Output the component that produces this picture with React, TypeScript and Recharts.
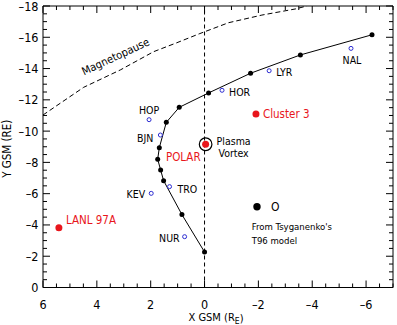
import { ScatterChart, Scatter, XAxis, YAxis, ReferenceLine } from 'recharts';

// T96 field-line footprint trace, GSM coordinates in Earth radii
const traceX = [0, 0.84, 1.52, 1.63, 1.74, 1.68, 1.42, 0.94, -0.15, -1.71, -3.56, -6.22];
const traceY = [-2.27, -4.66, -6.83, -7.51, -8.2, -8.94, -10.56, -11.52, -12.44, -13.7, -14.87, -16.16];

// model magnetopause boundary
const magnetopauseX = [6, 4.49, 3.13, 1.89, 1.03, 0.2, -0.89, -2.13, -3.37, -3.8];
const magnetopauseY = [-11.03, -12.8, -13.91, -15.08, -15.65, -16.22, -16.93, -17.42, -17.81, -18];

// ground stations (mapped)
const stationNames = ['HOP', 'BJN', 'HOR', 'LYR', 'NAL', 'TRO', 'KEV', 'NUR'];
const stationX = [2.06, 1.64, -0.65, -2.4, -5.44, 1.3, 1.98, 0.74];
const stationY = [-10.73, -9.75, -12.61, -13.86, -15.29, -6.45, -6.02, -3.25];

// spacecraft positions
const craftNames = ['POLAR', 'Cluster 3', 'LANL 97A'];
const craftX = [-0.04, -1.91, 5.41];
const craftY = [-9.16, -11.09, -3.82];

// plasma vortex seen at POLAR
const vortexX = [-0.04];
const vortexY = [-9.16];

const xTickLabels = [6, 4, 2, 0, -2, -4, -6];
const yTickLabels = [0, -2, -4, -6, -8, -10, -12, -14, -16, -18];

const X_DOMAIN: [number, number] = [-7, 6];
const Y_DOMAIN: [number, number] = [-18, 0];
const xTicks = Array.from({ length: 27 }, (_, i) => X_DOMAIN[0] + i * 0.5);
const yTicks = Array.from({ length: 37 }, (_, i) => Y_DOMAIN[0] + i * 0.5);

const FONT = "'DejaVu Sans Condensed', 'DejaVu Sans', sans-serif";
const RED = '#e8161c';
const BLUE = '#2c2cd2';
const GAP = 4;
const MAJOR = 7;
const MINOR = 4;

const zip = (names: string[] | null, xs: number[], ys: number[]) =>
  xs.map((x, i) => ({ x, y: ys[i], name: names ? names[i] : '' }));

const fmt = (v: number) => (v < 0 ? '\u2013' + Math.abs(v) : String(v));

const stationLabel: Record<string, { anchor: 'start' | 'middle' | 'end'; dx: number; dy: number }> = {
  HOP: { anchor: 'middle', dx: 0, dy: -10 },
  BJN: { anchor: 'end', dx: -7, dy: 3 },
  HOR: { anchor: 'start', dx: 7, dy: 1.5 },
  LYR: { anchor: 'start', dx: 7, dy: 1.5 },
  NAL: { anchor: 'middle', dx: 1, dy: 12 },
  TRO: { anchor: 'start', dx: 8, dy: 2 },
  KEV: { anchor: 'end', dx: -6, dy: 1 },
  NUR: { anchor: 'end', dx: -5, dy: 1 },
};

const craftLabel: Record<string, { anchor: 'start' | 'middle' | 'end'; dx: number; dy: number }> = {
  POLAR: { anchor: 'end', dx: -5, dy: 12.5 },
  'Cluster 3': { anchor: 'start', dx: 7, dy: 0 },
  'LANL 97A': { anchor: 'start', dx: 7, dy: -7.5 },
};

// inward-pointing ticks; the axis line position is recovered from the tick margin
function BottomTick({ x, y, payload }: any) {
  const a = y - GAP;
  const major = xTickLabels.includes(payload.value);
  return (
    <g>
      <line x1={x} x2={x} y1={a} y2={a - (major ? MAJOR : MINOR)} stroke="#000" strokeWidth={1} />
      {major && (
        <text x={x} y={a + 17} textAnchor="middle" dominantBaseline="central" fontSize={12.5} fontFamily={FONT} fill="#000">
          {fmt(payload.value)}
        </text>
      )}
    </g>
  );
}

function TopTick({ x, y, payload }: any) {
  const a = y + GAP;
  const major = xTickLabels.includes(payload.value);
  return <line x1={x} x2={x} y1={a} y2={a + (major ? MAJOR : MINOR)} stroke="#000" strokeWidth={1} />;
}

function LeftTick({ x, y, payload }: any) {
  const a = x + GAP;
  const major = yTickLabels.includes(payload.value);
  return (
    <g>
      <line x1={a} x2={a + (major ? MAJOR : MINOR)} y1={y} y2={y} stroke="#000" strokeWidth={1} />
      {major && (
        <text x={a - 4.5} y={y} textAnchor="end" dominantBaseline="central" fontSize={12.5} fontFamily={FONT} fill="#000">
          {fmt(payload.value)}
        </text>
      )}
    </g>
  );
}

function RightTick({ x, y, payload }: any) {
  const a = x - GAP;
  const major = yTickLabels.includes(payload.value);
  return <line x1={a} x2={a - (major ? MAJOR : MINOR)} y1={y} y2={y} stroke="#000" strokeWidth={1} />;
}

const TraceDot = ({ cx, cy }: any) => <circle cx={cx} cy={cy} r={2.5} fill="#000" />;

const StationDot = ({ cx, cy, payload }: any) => {
  const l = stationLabel[payload.name];
  return (
    <g>
      <circle cx={cx} cy={cy} r={2} fill="#fff" stroke={BLUE} strokeWidth={1} />
      <text x={cx + l.dx} y={cy + l.dy} textAnchor={l.anchor} dominantBaseline="central" fontSize={10.5} fontFamily={FONT} fill="#000">
        {payload.name}
      </text>
    </g>
  );
};

const CraftDot = ({ cx, cy, payload }: any) => {
  const l = craftLabel[payload.name];
  return (
    <g>
      <circle cx={cx} cy={cy} r={3.5} fill={RED} />
      <text x={cx + l.dx} y={cy + l.dy} textAnchor={l.anchor} dominantBaseline="central" fontSize={11.5} fontFamily={FONT} fill={RED}>
        {payload.name}
      </text>
    </g>
  );
};

const VortexRing = ({ cx, cy }: any) => (
  <g>
    <circle cx={cx} cy={cy} r={6.3} fill="none" stroke="#000" strokeWidth={1.2} />
    <text x={cx + 28} y={cy - 3.5} textAnchor="middle" dominantBaseline="central" fontSize={10.5} fontFamily={FONT} fill="#000">
      Plasma
    </text>
    <text x={cx + 28} y={cy + 8.5} textAnchor="middle" dominantBaseline="central" fontSize={10.5} fontFamily={FONT} fill="#000">
      Vortex
    </text>
  </g>
);

const BoundaryLabel = ({ cx, cy }: any) => (
  <text
    x={cx}
    y={cy}
    transform={`rotate(-25 ${cx} ${cy})`}
    textAnchor="middle"
    dominantBaseline="central"
    fontSize={11}
    fontFamily={FONT}
    fill="#000"
  >
    Magnetopause
  </text>
);

const NoDot = () => <g />;

const XTitle = ({ viewBox }: any) => (
  <text x={viewBox.x + viewBox.width / 2 - 2} y={viewBox.y + 30} textAnchor="middle" dominantBaseline="central" fontSize={11} fontFamily={FONT} fill="#000">
    X GSM (R<tspan fontSize={8.5} dy={3}>E</tspan>
    <tspan dy={-3}>)</tspan>
  </text>
);

const YTitle = ({ viewBox }: any) => {
  const cx = viewBox.x + 7;
  const cy = viewBox.y + viewBox.height / 2 + 2;
  return (
    <text x={cx} y={cy} transform={`rotate(-90 ${cx} ${cy})`} textAnchor="middle" dominantBaseline="central" fontSize={11.5} fontFamily={FONT} fill="#000">
      Y GSM (RE)
    </text>
  );
};

export default function App() {
  return (
    <div style={{ position: 'absolute', left: 0, top: 0, width: 397, height: 325, background: '#fff' }}>
      <ScatterChart width={397} height={325} margin={{ top: 5, right: 3, bottom: 0, left: 0 }}>
        <XAxis
          type="number"
          dataKey="x"
          domain={X_DOMAIN}
          reversed
          allowDataOverflow
          ticks={xTicks}
          interval={0}
          height={37.5}
          tickLine={false}
          tickSize={0}
          tickMargin={GAP}
          tick={<BottomTick />}
          stroke="#000"
          label={{ content: (p: any) => <XTitle viewBox={p.viewBox} /> }}
        />
        <XAxis
          xAxisId="top"
          orientation="top"
          type="number"
          dataKey="x"
          domain={X_DOMAIN}
          reversed
          allowDataOverflow
          ticks={xTicks}
          interval={0}
          height={1}
          tickLine={false}
          tickSize={0}
          tickMargin={GAP}
          tick={<TopTick />}
          stroke="#000"
        />
        <YAxis
          type="number"
          dataKey="y"
          domain={Y_DOMAIN}
          reversed
          allowDataOverflow
          ticks={yTicks}
          interval={0}
          width={43}
          tickLine={false}
          tickSize={0}
          tickMargin={GAP}
          tick={<LeftTick />}
          stroke="#000"
          label={{ content: (p: any) => <YTitle viewBox={p.viewBox} /> }}
        />
        <YAxis
          yAxisId="right"
          orientation="right"
          type="number"
          dataKey="y"
          domain={Y_DOMAIN}
          reversed
          allowDataOverflow
          ticks={yTicks}
          interval={0}
          width={1}
          tickLine={false}
          tickSize={0}
          tickMargin={GAP}
          tick={<RightTick />}
          stroke="#000"
        />
        <ReferenceLine x={0} stroke="#000" strokeDasharray="4 3" strokeWidth={1} />
        {/* the boundary sits on the top/right axes, which share the same scales */}
        <Scatter
          xAxisId="top"
          yAxisId="right"
          data={zip(null, magnetopauseX, magnetopauseY)}
          line={{ stroke: '#000', strokeWidth: 1, strokeDasharray: '5 3' }}
          lineType="joint"
          shape={<NoDot />}
          isAnimationActive={false}
        />
        <Scatter
          data={[{ x: 3.3, y: -14.75 }]}
          shape={<BoundaryLabel />}
          isAnimationActive={false}
        />
        <Scatter
          data={zip(null, traceX, traceY)}
          line={{ stroke: '#000', strokeWidth: 1 }}
          lineType="joint"
          shape={<TraceDot />}
          isAnimationActive={false}
        />
        <Scatter data={zip(stationNames, stationX, stationY)} shape={<StationDot />} isAnimationActive={false} />
        <Scatter data={zip(null, vortexX, vortexY)} shape={<VortexRing />} isAnimationActive={false} />
        <Scatter data={zip(craftNames, craftX, craftY)} shape={<CraftDot />} isAnimationActive={false} />
      </ScatterChart>
      <svg width={160} height={60} style={{ position: 'absolute', left: 245, top: 195 }}>
        <circle cx={12} cy={11.7} r={3.7} fill="#000" />
        <text x={26} y={11.7} dominantBaseline="central" fontSize={12} fontFamily={FONT} fill="#000">
          O
        </text>
        <text x={6.7} y={31} dominantBaseline="central" fontSize={9.5} fontFamily={FONT} fill="#000">
          From Tsyganenko's
        </text>
        <text x={6.7} y={45} dominantBaseline="central" fontSize={9.5} fontFamily={FONT} fill="#000">
          T96 model
        </text>
      </svg>
    </div>
  );
}
